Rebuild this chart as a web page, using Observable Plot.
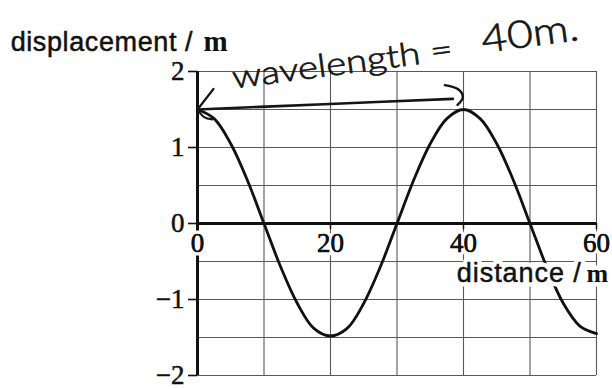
<!DOCTYPE html>
<html>
<head>
<meta charset="utf-8">
<script src="https://cdn.jsdelivr.net/npm/d3@7"></script>
<script src="https://cdn.jsdelivr.net/npm/@observablehq/plot@0.6"></script>
<style>
  body { margin: 0; background: #fff; }
  #chart svg { display: block; background: #fff; }
</style>
</head>
<body>
<div id="chart"></div>
<script>
// Wave profile: displacement (m) against distance (m)
const distance = [0, 2.5, 5, 7.5, 10, 12.5, 15, 17.5, 20, 22.5, 25, 27.5, 30, 32.5, 35, 37.5, 40, 42.5, 45, 47.5, 50, 52.5, 55, 57.5, 60];
const displacement = [1.5, 1.38, 1.05, 0.57, 0, -0.57, -1.05, -1.38, -1.48, -1.38, -1.05, -0.57, 0, 0.57, 1.05, 1.38, 1.5, 1.38, 1.05, 0.57, 0, -0.57, -1.05, -1.35, -1.45];

// Axes and grid
const xTicks = [0, 20, 40, 60];
const yTicks = [-2, -1, 0, 1, 2];
const xGrid = [0, 10, 20, 30, 40, 50, 60];
const yGrid = [-2, -1.5, -1, -0.5, 0, 0.5, 1, 1.5, 2];

// Axis titles: sans-serif words followed by a serif unit
const yTitle = { x: -28.1, y: 2.39, words: "displacement /", width: 182, unitX: 0.9, unit: "m" };
const xTitle = { x: 39.0, y: -0.66, words: "distance /", width: 124, unitX: 58.5, unit: "m" };

// Hand-written note: double arrow spanning one wavelength
const arrowShaft = [{ x: 0, y: 1.5 }, { x: 19, y: 1.57 }, { x: 38.4, y: 1.64 }];
const arrowHeadLeft = [{ x: 2.4, y: 1.77 }, { x: 0, y: 1.5 }];
const arrowLoop = [{ x: 0, y: 1.5 }, { x: 1, y: 1.4 }, { x: 2.2, y: 1.37 }];
const arrowHeadRight = [{ x: 37.2, y: 1.82 }, { x: 39.3, y: 1.76 }, { x: 39.9, y: 1.66 }, { x: 39.1, y: 1.56 }];
const noteParts = [
  { x: 21.8, y: 2.1, text: "wavelength =", size: 32, length: 222 },
  { x: 50.0, y: 2.49, text: "40m.", size: 38, length: 98 }
];

const wave = distance.map((d, i) => ({ x: d, y: displacement[i] }));
const minus = d => (d < 0 ? "\u2212" + Math.abs(d) : String(d));
const sans = "Liberation Sans, Arial, sans-serif";
const serif = "Liberation Serif, Times New Roman, serif";
const hand = "Lato, Open Sans, sans-serif";
const ink = "#111";

const chart = Plot.plot({
  width: 612,
  height: 389,
  marginLeft: 197,
  marginRight: 16,
  marginTop: 71,
  marginBottom: 14,
  x: { type: "linear", domain: [0, 60], axis: null },
  y: { type: "linear", domain: [-2, 2], axis: null },
  style: { background: "#fff", overflow: "visible" },
  marks: [
    // grid
    Plot.ruleX(xGrid, { x: d => d, y1: -2, y2: 2, stroke: "#585858", strokeWidth: 1.1 }),
    Plot.ruleY(yGrid, { y: d => d, x1: 0, x2: 60, stroke: "#585858", strokeWidth: 1.1 }),
    // wave
    Plot.line(wave, { x: "x", y: "y", curve: "catmull-rom", stroke: ink, strokeWidth: 2.8 }),
    // main axes
    Plot.ruleX([0], { x: d => d, y1: -2, y2: 2, stroke: ink, strokeWidth: 3 }),
    Plot.ruleY([0], { y: d => d, x1: 0, x2: 60, stroke: ink, strokeWidth: 3 }),
    Plot.axisY({
      ticks: yTicks, tickFormat: minus, tickSize: 9, tickPadding: 4, label: null,
      fontSize: 27, fontFamily: serif, stroke: ink, strokeWidth: 1.6, fill: ink
    }),
    Plot.ruleX(xTicks, { x: d => d, y1: 0, y2: -0.08, stroke: ink, strokeWidth: 1.4 }),
    Plot.text(xTicks, {
      x: d => d, y: 0, dy: 20, text: minus, fontSize: 27, fontFamily: serif,
      fill: ink, stroke: "white", strokeWidth: 7, paintOrder: "stroke"
    }),
    Plot.text(xTicks, {
      x: d => d, y: 0, dy: 20, text: minus, fontSize: 27, fontFamily: serif,
      fill: ink, stroke: ink, strokeWidth: 0.5
    }),
    // axis titles
    Plot.text([xTitle], { x: "x", y: "y", text: "words", textAnchor: "start", fontSize: 27, fontFamily: sans, fill: "white", stroke: "white", strokeWidth: 9 }),
    Plot.text([xTitle], { x: "unitX", y: "y", text: "unit", textAnchor: "start", fontSize: 26, fontFamily: serif, fontWeight: "bold", fill: "white", stroke: "white", strokeWidth: 9 }),
    Plot.text([xTitle], { x: "x", y: "y", text: "words", textAnchor: "start", fontSize: 27, fontFamily: sans, fill: ink, stroke: ink, strokeWidth: 0.5 }),
    Plot.text([xTitle], { x: "unitX", y: "y", text: "unit", textAnchor: "start", fontSize: 26, fontFamily: serif, fontWeight: "bold", fill: ink }),
    Plot.text([yTitle], { x: "x", y: "y", text: "words", textAnchor: "start", fontSize: 27, fontFamily: sans, fill: ink, stroke: ink, strokeWidth: 0.5 }),
    Plot.text([yTitle], { x: "unitX", y: "y", text: "unit", textAnchor: "start", fontSize: 29, fontFamily: serif, fontWeight: "bold", fill: ink }),
    // hand-written annotation
    Plot.line(arrowShaft, { x: "x", y: "y", curve: "catmull-rom", stroke: "#151515", strokeWidth: 2.6 }),
    Plot.line(arrowHeadLeft, { x: "x", y: "y", stroke: "#151515", strokeWidth: 2.2 }),
    Plot.line(arrowLoop, { x: "x", y: "y", curve: "catmull-rom", stroke: "#151515", strokeWidth: 2.2 }),
    Plot.line(arrowHeadRight, { x: "x", y: "y", curve: "catmull-rom", stroke: "#151515", strokeWidth: 2.4 }),
    Plot.text(noteParts, {
      x: "x", y: "y", text: "text", rotate: -7.5, fontSize: "size", fontFamily: hand, fontWeight: 300,
      fill: "#151515", stroke: "#151515", strokeWidth: 0.7
    })
  ]
});

// thicken the printed y tick numbers a little
d3.select(chart).selectAll('g[aria-label="y-axis tick label"]').attr("stroke", ink).attr("stroke-width", 0.5);

// set the drawn widths of the hand-written words and of the axis-title words
d3.select(chart).selectAll("text").each(function () {
  const t = this.textContent;
  const part = noteParts.find(p => p.text === t);
  if (part) {
    this.setAttribute("textLength", part.length);
    this.setAttribute("lengthAdjust", "spacingAndGlyphs");
  }
  for (const title of [xTitle, yTitle]) {
    if (title.words === t) {
      this.setAttribute("textLength", title.width);
      this.setAttribute("lengthAdjust", "spacing");
    }
  }
});

document.getElementById("chart").append(chart);
</script>
</body>
</html>
